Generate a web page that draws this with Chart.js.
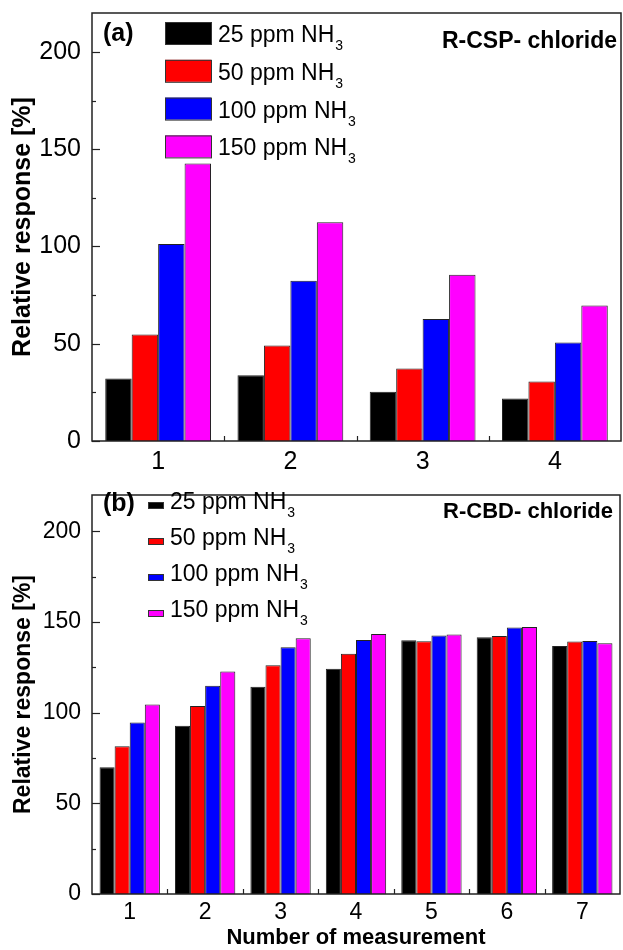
<!DOCTYPE html>
<html>
<head>
<meta charset="utf-8">
<script src="https://cdn.jsdelivr.net/npm/chart.js@4.4.0/dist/chart.umd.min.js"></script>
<style>
  html, body { margin: 0; padding: 0; background: #fff; }
  .panel { position: absolute; left: 0; width: 623px; height: 475px; }
  #panelA { top: 0; }
  #panelB { top: 475px; }
</style>
</head>
<body>
<div class="panel" id="panelA"><canvas id="chartA" width="623" height="475"></canvas></div>
<div class="panel" id="panelB"><canvas id="chartB" width="623" height="475"></canvas></div>
<script>
const seriesLabels = ['25 ppm NH3', '50 ppm NH3', '100 ppm NH3', '150 ppm NH3'];
const seriesColors = ['#000000', '#ff0000', '#0000ff', '#ff00ff'];

// (a) R-CSP- chloride
const cspLabels = ['1', '2', '3', '4'];
const csp25  = [32.1, 33.8, 25.3, 21.9];
const csp50  = [54.7, 49.1, 37.3, 30.6];
const csp100 = [101.2, 82.4, 62.7, 50.6];
const csp150 = [142.6, 112.5, 85.5, 69.6];

// (b) R-CBD- chloride
const cbdLabels = ['1', '2', '3', '4', '5', '6', '7'];
const cbd25  = [69.9, 92.8, 114.3, 124.2, 139.9, 141.5, 136.7];
const cbd50  = [81.4, 103.6, 126.1, 132.4, 139.4, 142.2, 139.2];
const cbd100 = [94.5, 114.8, 136.0, 140.1, 142.6, 146.9, 139.5];
const cbd150 = [104.5, 122.7, 141.0, 143.3, 143.1, 147.2, 138.3];

const yMin = 0;
const yMax = 220;
const family = "'Liberation Sans', Arial, sans-serif";

// frame, inward ticks, panel tag, sample name and legend
const panelDecor = {
  id: 'panelDecor',
  afterDraw(chart, args, o) {
    const ctx = chart.ctx;
    const a = chart.chartArea;
    const xs = chart.scales.x, ys = chart.scales.y;
    ctx.save();
    ctx.strokeStyle = '#222';
    ctx.lineWidth = 1.5;
    ctx.strokeRect(a.left, a.top, a.right - a.left, a.bottom - a.top);

    ctx.lineWidth = 1.2;
    ys.ticks.forEach(t => {
      const py = Math.round(ys.getPixelForValue(t.value)) + 0.5;
      const len = t.value % 50 === 0 ? 8 : 4;
      ctx.beginPath(); ctx.moveTo(a.left, py); ctx.lineTo(a.left + len, py); ctx.stroke();
    });
    for (let i = 1; i < xs.ticks.length; i++) {
      const px = Math.round((xs.getPixelForTick(i - 1) + xs.getPixelForTick(i)) / 2) + 0.5;
      ctx.beginPath(); ctx.moveTo(px, a.bottom); ctx.lineTo(px, a.bottom - 5); ctx.stroke();
    }

    ctx.fillStyle = '#000';
    ctx.textBaseline = 'middle';
    ctx.textAlign = 'left';
    ctx.font = 'bold ' + o.tagSize + 'px ' + family;
    ctx.fillText(o.tag, o.tagX, o.tagY);

    ctx.textAlign = 'right';
    ctx.font = 'bold ' + o.nameSize + 'px ' + family;
    ctx.fillText(o.name, a.right - o.nameInset, o.nameY);

    ctx.textAlign = 'left';
    chart.data.datasets.forEach((ds, i) => {
      const ry = o.rowY + i * o.rowStep;
      ctx.fillStyle = ds.backgroundColor;
      ctx.fillRect(o.boxX, ry + o.boxDy, o.boxW, o.boxH);
      ctx.strokeStyle = '#333';
      ctx.lineWidth = 1;
      ctx.strokeRect(o.boxX + 0.5, ry + o.boxDy + 0.5, o.boxW, o.boxH);
      const main = ds.label.slice(0, -1);
      const sub = ds.label.slice(-1);
      ctx.fillStyle = '#000';
      ctx.textBaseline = 'alphabetic';
      ctx.font = o.textSize + 'px ' + family;
      const base = ry + Math.round(o.textSize * 0.36);
      ctx.fillText(main, o.textX, base);
      const w = ctx.measureText(main).width;
      ctx.font = Math.round(o.textSize * 0.6) + 'px ' + family;
      ctx.fillText(sub, o.textX + w + 1, base + 8);
    });
    ctx.restore();
  }
};

function makeChart(id, labels, series, deco, dims) {
  return new Chart(document.getElementById(id), {
    type: 'bar',
    data: {
      labels: labels,
      datasets: series.map((d, i) => ({
        label: seriesLabels[i],
        data: d,
        backgroundColor: seriesColors[i],
        borderColor: '#222',
        borderWidth: 1,
        barPercentage: 1.0,
        categoryPercentage: 0.8
      }))
    },
    options: {
      responsive: false,
      animation: false,
      layout: { padding: { top: dims.padTop, right: dims.padRight, left: 0, bottom: 0 } },
      plugins: {
        legend: { display: false },
        tooltip: { enabled: false },
        panelDecor: deco
      },
      scales: {
        x: {
          grid: { display: false, drawTicks: false },
          border: { display: false },
          ticks: { color: '#000', padding: dims.xPad, font: { family: family, size: dims.tickSize } },
          title: dims.xTitle
            ? { display: true, text: dims.xTitle, color: '#000', padding: { top: 0, bottom: 1 },
                font: { family: family, size: 22, weight: 'bold', lineHeight: 1 } }
            : { display: false },
          afterFit(s) {
            s.height = dims.xHeight;
            s.paddingLeft = 0; s.paddingRight = 0;
          }
        },
        y: {
          min: yMin,
          max: yMax,
          grid: { display: false, drawTicks: false },
          border: { display: false },
          ticks: {
            stepSize: 25, includeBounds: false, autoSkip: false, color: '#000', padding: 11,
            font: { family: family, size: dims.tickSize },
            callback: v => (v % 50 === 0 ? v : '')
          },
          title: {
            display: true, text: 'Relative response [%]', color: '#000',
            padding: { top: dims.yTitlePad, bottom: 0 },
            font: { family: family, size: dims.yTitleSize, weight: 'bold' }
          },
          afterFit(s) {
            s.width = 92;
            s.paddingTop = 0; s.paddingBottom = 0;
          }
        }
      }
    },
    plugins: [panelDecor]
  });
}

makeChart('chartA', cspLabels, [csp25, csp50, csp100, csp150], {
  tag: '(a)', tagX: 103, tagY: 34, tagSize: 25,
  name: 'R-CSP- chloride', nameSize: 23, nameInset: 4, nameY: 42,
  boxX: 165, boxW: 46, boxH: 22, boxDy: -12,
  rowY: 34, rowStep: 37.8, textX: 218, textSize: 23
}, { padTop: 13, padRight: 2, xPad: 6, tickSize: 25, xHeight: 34, yTitlePad: 8, yTitleSize: 25 });

makeChart('chartB', cbdLabels, [cbd25, cbd50, cbd100, cbd150], {
  tag: '(b)', tagX: 103, tagY: 29, tagSize: 25,
  name: 'R-CBD- chloride', nameSize: 22, nameInset: 7, nameY: 37,
  boxX: 148, boxW: 15, boxH: 6, boxDy: 1,
  rowY: 26, rowStep: 36, textX: 170, textSize: 23
}, { padTop: 20, padRight: 3, xPad: 5, tickSize: 23, xHeight: 56, yTitlePad: 10, yTitleSize: 23,
     xTitle: 'Number of measurement' });
</script>
</body>
</html>
